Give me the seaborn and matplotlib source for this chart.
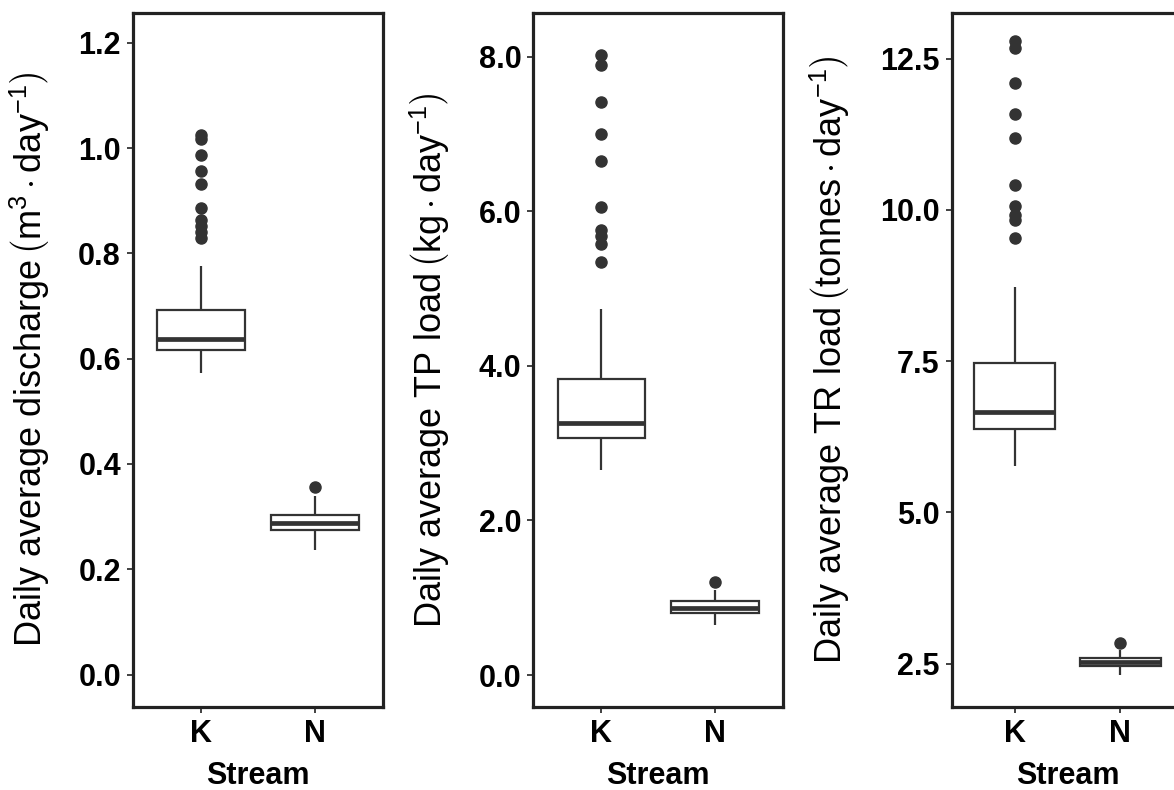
import numpy as np
import pandas as pd
import matplotlib
matplotlib.use("Agg")
import matplotlib.pyplot as plt
import seaborn as sns

# ---------------- data ----------------
streams = ["K", "N"]

# box summaries: [lower whisker, Q1, median, Q3, upper whisker]
discharge_K_box = [0.572, 0.616, 0.637, 0.693, 0.775]
discharge_K_out = [1.025, 1.017, 0.987, 0.956, 0.931, 0.886, 0.864, 0.852, 0.840, 0.830]
discharge_N_box = [0.237, 0.274, 0.288, 0.304, 0.340]
discharge_N_out = [0.357]

tp_K_box = [2.65, 3.07, 3.26, 3.825, 4.735]
tp_K_out = [8.02, 7.89, 7.41, 7.00, 6.65, 6.05, 5.76, 5.68, 5.58, 5.35]
tp_N_box = [0.65, 0.80, 0.865, 0.955, 1.10]
tp_N_out = [1.21]

tr_K_box = [5.77, 6.38, 6.66, 7.477, 8.72]
tr_K_out = [12.80, 12.68, 12.09, 11.59, 11.19, 10.42, 10.06, 9.91, 9.83, 9.54]
tr_N_box = [2.31, 2.46, 2.53, 2.60, 2.73]
tr_N_out = [2.84]

discharge_ticks = [0.0, 0.2, 0.4, 0.6, 0.8, 1.0, 1.2]
tp_ticks = [0.0, 2.0, 4.0, 6.0, 8.0]
tr_ticks = [2.5, 5.0, 7.5, 10.0, 12.5]

labels = [
    r"Daily average discharge$\,\left(\mathrm{m}^{3}\cdot\mathrm{day}^{-1}\right)$",
    r"Daily average TP load$\,\left(\mathrm{kg}\cdot\mathrm{day}^{-1}\right)$",
    r"Daily average TR load$\,\left(\mathrm{tonnes}\cdot\mathrm{day}^{-1}\right)$",
]


def sample_from_summary(box, outliers, rep=40):
    """Build a sample whose quartiles/whiskers/outliers equal the summary."""
    lo, q1, med, q3, hi = box
    return [lo] + [q1] * rep + [med] * rep + [q3] * rep + [hi] + list(outliers)


def make_frame(k_box, k_out, n_box, n_out):
    k = sample_from_summary(k_box, k_out)
    n = sample_from_summary(n_box, n_out)
    return pd.DataFrame({
        "Stream": ["K"] * len(k) + ["N"] * len(n),
        "value": k + n,
    })


frames = [
    make_frame(discharge_K_box, discharge_K_out, discharge_N_box, discharge_N_out),
    make_frame(tp_K_box, tp_K_out, tp_N_box, tp_N_out),
    make_frame(tr_K_box, tr_K_out, tr_N_box, tr_N_out),
]
ticks = [discharge_ticks, tp_ticks, tr_ticks]
ylims = [(-0.061, 1.257), (-0.41, 8.57), (1.79, 13.26)]

# ---------------- style ----------------
sns.set_theme(style="white")
plt.rcParams["font.family"] = ["Liberation Sans", "DejaVu Sans"]
plt.rcParams["mathtext.fontset"] = "custom"
plt.rcParams["mathtext.rm"] = "Liberation Sans"
plt.rcParams["mathtext.it"] = "Liberation Sans:italic"
plt.rcParams["mathtext.bf"] = "Liberation Sans:bold"

W, H = 1174, 790
fig = plt.figure(figsize=(W / 100, H / 100), dpi=100)
fig.patch.set_facecolor("white")

# axes boxes in pixels: (left, right)
top_px, bot_px = 12.7, 706.7
lr_px = [(132.7, 383.3), (533.3, 783.3), (951.5, 1183.5)]
label_right_px = [52, 452, 852]

line_col = "#333333"
for i, (l, r) in enumerate(lr_px):
    ax = fig.add_axes([l / W, (H - bot_px) / H, (r - l) / W, (bot_px - top_px) / H])
    sns.boxplot(
        data=frames[i], x="Stream", y="value", order=streams, ax=ax,
        color="white", linecolor=line_col, linewidth=1.6, width=0.77,
        whis=1.5, showcaps=False,
        flierprops=dict(marker="o", markerfacecolor=line_col,
                        markeredgecolor=line_col, markersize=8),
        medianprops=dict(linewidth=3.4, color=line_col),
    )
    ax.set_xlim(-0.6, 1.6)
    ax.set_ylim(*ylims[i])
    ax.set_yticks(ticks[i])
    ax.set_yticklabels([f"{t:.1f}" for t in ticks[i]])
    for s in ax.spines.values():
        s.set_visible(True)
        s.set_color("#222222")
        s.set_linewidth(2.3)
    ax.tick_params(axis="both", which="major", direction="out", length=4.5,
                   width=1.3, color="#333333", labelsize=22, pad=4,
                   left=True, bottom=True, labelcolor="black")
    for t in ax.get_xticklabels() + ax.get_yticklabels():
        t.set_fontweight("bold")
    ax.set_xlabel("Stream", fontsize=22, fontweight="bold", color="black", labelpad=9)
    ax.set_ylabel(labels[i], fontsize=26, color="black")
    ax.yaxis.set_label_coords((label_right_px[i] - l) / (r - l), 0.5)
    ax.grid(False)
    ax.set_facecolor("white")

fig.savefig("out.png", dpi=100, facecolor="white")
